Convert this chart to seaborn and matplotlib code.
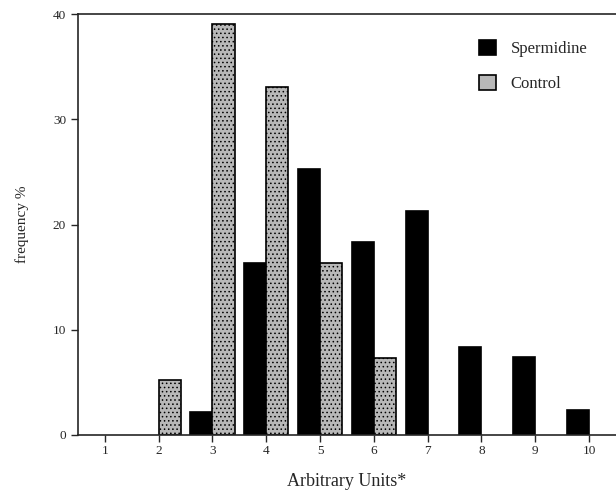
import pandas as pd
import matplotlib
matplotlib.use('Agg')
from matplotlib import pyplot as plt
import seaborn as sns

# values (frequency %)
units = [1, 2, 3, 4, 5, 6, 7, 8, 9, 10]
spermidine = [0, 0, 2.2, 16.3, 25.3, 18.3, 21.3, 8.4, 7.4, 2.4]
control = [0, 5.2, 39.1, 33.1, 16.3, 7.3, 0, 0, 0, 0]
groups = ['Spermidine', 'Control']

rows = []
for u, s, c in zip(units, spermidine, control):
    if s > 0:
        rows.append({'unit': u, 'group': 'Spermidine', 'freq': s})
    if c > 0:
        rows.append({'unit': u, 'group': 'Control', 'freq': c})
df = pd.DataFrame(rows)

sns.set_style('ticks')
plt.rcParams['font.family'] = ['Liberation Serif', 'DejaVu Serif']
plt.rcParams['hatch.color'] = '#6e6e6e'
plt.rcParams['hatch.linewidth'] = 0.6

fig = plt.figure(figsize=(6.16, 5.04), dpi=100)
ax = fig.add_axes([0.1266, 0.137, 0.8734, 0.835])

sns.barplot(data=df, x='unit', y='freq', hue='group', hue_order=groups,
            native_scale=True, width=0.82, dodge=True,
            palette={'Spermidine': 'black', 'Control': '#b8b8b8'},
            edgecolor='black', linewidth=1.2, saturation=1, ax=ax)

# stipple the control bars
for bar in ax.containers[1]:
    bar.set_hatch('....')

ax.set_xlim(0.5, 10.5)
ax.set_ylim(0, 40)
ax.set_xticks(units)
ax.set_yticks([0, 10, 20, 30, 40])
ax.tick_params(axis='both', labelsize=9.5, length=5, width=1, direction='out')
ax.tick_params(axis='x', pad=2)
ax.set_xlabel('Arbitrary Units*', fontsize=13, labelpad=12)
ax.set_ylabel('frequency %', fontsize=11, labelpad=17)

sns.despine(ax=ax, top=False, right=True)
for sp in ax.spines.values():
    sp.set_linewidth(1.2)

leg = ax.legend(loc='upper right', bbox_to_anchor=(0.975, 0.975), frameon=False,
                fontsize=12, handlelength=1.0, handleheight=1.0,
                labelspacing=1.1, handletextpad=0.9)
for h in leg.legend_handles:
    h.set_edgecolor('black')

fig.savefig('out.png', dpi=100)
